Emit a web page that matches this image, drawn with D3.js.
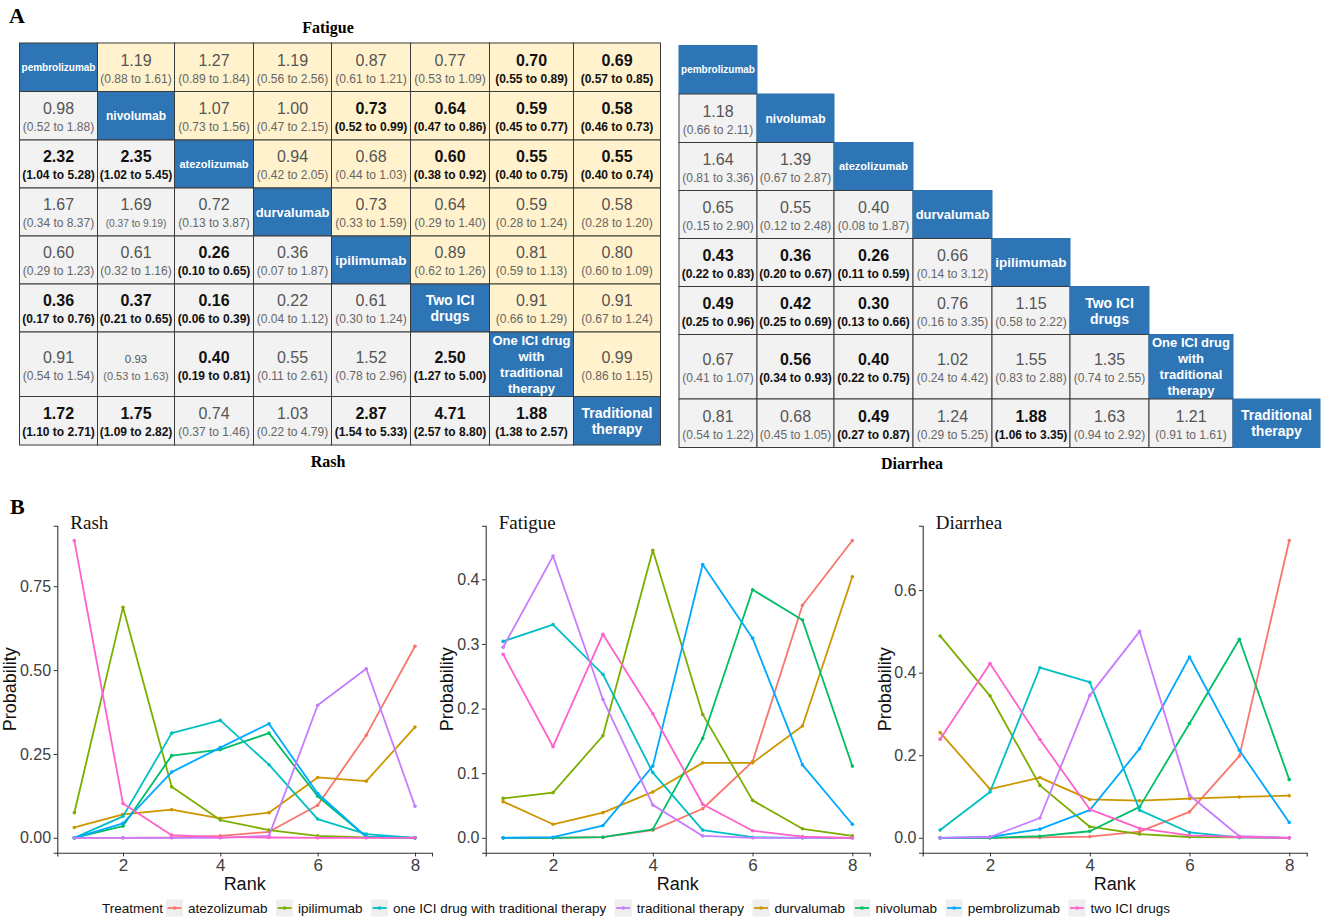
<!DOCTYPE html>
<html>
<head>
<meta charset="utf-8">
<script src="https://cdn.jsdelivr.net/npm/d3@7"></script>
<style>
  body { margin: 0; background: #fff; }
  svg text { font-family: "Liberation Sans", Arial, sans-serif; }
  svg text.serif { font-family: "Liberation Serif", "Times New Roman", serif; }
</style>
</head>
<body>
<script>
// ---------- data: league tables (A) ----------
const diagLabels = [
  ['pembrolizumab'], ['nivolumab'], ['atezolizumab'], ['durvalumab'], ['ipilimumab'],
  ['Two ICI', 'drugs'], ['One ICI drug', 'with', 'traditional', 'therapy'], ['Traditional', 'therapy']
];

// fatigue: upper triangle, row i, columns j > i  [OR, lower, upper]
const fatigue = [
  [[1.19,0.88,1.61],[1.27,0.89,1.84],[1.19,0.56,2.56],[0.87,0.61,1.21],[0.77,0.53,1.09],[0.70,0.55,0.89],[0.69,0.57,0.85]],
  [[1.07,0.73,1.56],[1.00,0.47,2.15],[0.73,0.52,0.99],[0.64,0.47,0.86],[0.59,0.45,0.77],[0.58,0.46,0.73]],
  [[0.94,0.42,2.05],[0.68,0.44,1.03],[0.60,0.38,0.92],[0.55,0.40,0.75],[0.55,0.40,0.74]],
  [[0.73,0.33,1.59],[0.64,0.29,1.40],[0.59,0.28,1.24],[0.58,0.28,1.20]],
  [[0.89,0.62,1.26],[0.81,0.59,1.13],[0.80,0.60,1.09]],
  [[0.91,0.66,1.29],[0.91,0.67,1.24]],
  [[0.99,0.86,1.15]],
  []
];

// rash: lower triangle, row i, columns j < i
const rash = [
  [],
  [[0.98,0.52,1.88]],
  [[2.32,1.04,5.28],[2.35,1.02,5.45]],
  [[1.67,0.34,8.37],[1.69,0.37,9.19],[0.72,0.13,3.87]],
  [[0.60,0.29,1.23],[0.61,0.32,1.16],[0.26,0.10,0.65],[0.36,0.07,1.87]],
  [[0.36,0.17,0.76],[0.37,0.21,0.65],[0.16,0.06,0.39],[0.22,0.04,1.12],[0.61,0.30,1.24]],
  [[0.91,0.54,1.54],[0.93,0.53,1.63],[0.40,0.19,0.81],[0.55,0.11,2.61],[1.52,0.78,2.96],[2.50,1.27,5.00]],
  [[1.72,1.10,2.71],[1.75,1.09,2.82],[0.74,0.37,1.46],[1.03,0.22,4.79],[2.87,1.54,5.33],[4.71,2.57,8.80],[1.88,1.38,2.57]]
];

// diarrhea: lower triangle only
const diarrhea = [
  [],
  [[1.18,0.66,2.11]],
  [[1.64,0.81,3.36],[1.39,0.67,2.87]],
  [[0.65,0.15,2.90],[0.55,0.12,2.48],[0.40,0.08,1.87]],
  [[0.43,0.22,0.83],[0.36,0.20,0.67],[0.26,0.11,0.59],[0.66,0.14,3.12]],
  [[0.49,0.25,0.96],[0.42,0.25,0.69],[0.30,0.13,0.66],[0.76,0.16,3.35],[1.15,0.58,2.22]],
  [[0.67,0.41,1.07],[0.56,0.34,0.93],[0.40,0.22,0.75],[1.02,0.24,4.42],[1.55,0.83,2.88],[1.35,0.74,2.55]],
  [[0.81,0.54,1.22],[0.68,0.45,1.05],[0.49,0.27,0.87],[1.24,0.29,5.25],[1.88,1.06,3.35],[1.63,0.94,2.92],[1.21,0.91,1.61]]
];

// ---------- data: rank probabilities (B) ----------
const ranks = [1, 2, 3, 4, 5, 6, 7, 8];
const treatments = ['atezolizumab', 'durvalumab', 'ipilimumab', 'nivolumab',
  'one ICI drug with traditional therapy', 'pembrolizumab', 'traditional therapy', 'two ICI drugs'];
const legendOrder = ['atezolizumab', 'ipilimumab', 'one ICI drug with traditional therapy', 'traditional therapy',
  'durvalumab', 'nivolumab', 'pembrolizumab', 'two ICI drugs'];

const rashProb = [
  [0, 0, 0.001, 0.006, 0.018, 0.097, 0.306, 0.571],
  [0.031, 0.070, 0.084, 0.058, 0.075, 0.180, 0.169, 0.330],
  [0.075, 0.687, 0.152, 0.053, 0.023, 0.006, 0.001, 0],
  [0, 0.035, 0.245, 0.263, 0.312, 0.124, 0.003, 0],
  [0, 0.064, 0.312, 0.350, 0.218, 0.056, 0.011, 0],
  [0, 0.043, 0.196, 0.269, 0.340, 0.132, 0.003, 0],
  [0, 0, 0, 0, 0.006, 0.395, 0.504, 0.094],
  [0.886, 0.102, 0.008, 0.002, 0.001, 0, 0, 0]
];
const fatigueProb = [
  [0, 0, 0.001, 0.012, 0.045, 0.118, 0.360, 0.460],
  [0.056, 0.021, 0.039, 0.071, 0.116, 0.116, 0.173, 0.404],
  [0.061, 0.070, 0.158, 0.445, 0.191, 0.058, 0.014, 0.003],
  [0, 0, 0.001, 0.013, 0.154, 0.384, 0.337, 0.111],
  [0.304, 0.330, 0.253, 0.101, 0.012, 0.001, 0, 0],
  [0, 0.001, 0.019, 0.111, 0.423, 0.309, 0.113, 0.021],
  [0.295, 0.436, 0.214, 0.051, 0.003, 0, 0, 0],
  [0.284, 0.141, 0.315, 0.192, 0.052, 0.011, 0.002, 0]
];
const diarrheaProb = [
  [0, 0, 0.001, 0.003, 0.015, 0.063, 0.198, 0.720],
  [0.255, 0.118, 0.146, 0.093, 0.090, 0.095, 0.099, 0.102],
  [0.489, 0.344, 0.127, 0.027, 0.009, 0.002, 0.001, 0],
  [0, 0, 0.004, 0.016, 0.075, 0.277, 0.481, 0.141],
  [0.019, 0.111, 0.412, 0.377, 0.067, 0.013, 0.001, 0],
  [0, 0.002, 0.021, 0.067, 0.216, 0.438, 0.212, 0.037],
  [0, 0.002, 0.048, 0.345, 0.500, 0.103, 0.004, 0],
  [0.239, 0.422, 0.238, 0.069, 0.023, 0.006, 0.002, 0]
];

const rashTicks = [0, 0.25, 0.5, 0.75];
const fatigueTicks = [0, 0.1, 0.2, 0.3, 0.4];
const diarrheaTicks = [0, 0.2, 0.4, 0.6];
const rankTicks = [2, 4, 6, 8];

// ---------- styles ----------
const color = d3.scaleOrdinal()
  .domain(treatments)
  .range(['#F8766D', '#CD9600', '#7CAE00', '#00BE67', '#00BFC4', '#00A9FF', '#C77CFF', '#FF61CC']);
const BLUE = '#2E75B6', YELLOW = '#FFF2CC', GREY = '#F2F2F2';
const diagFont = [10, 12, 11, 13, 13.5, 14, 13, 14];
const colW = [78, 77, 79, 78, 79, 79, 84, 87];
const rowH = [48.5, 48.5, 48, 48, 48, 48, 64.5, 48.5];
// a couple of cells are typeset smaller in the source: [value size, CI size]
const oddSizes = { '3-1': [16, 10.2], '6-1': [11.5, 11] };

const W = 1322, H = 919;
const svg = d3.select('body').append('svg').attr('width', W).attr('height', H);
const f2 = d3.format('.2f');

// ---------- league tables ----------
function drawMatrix(x0, y0, upper, lower, colWidths) {
  const xs = [0, ...d3.cumsum(colWidths)];
  const ys = [0, ...d3.cumsum(rowH)];
  const g = svg.append('g').attr('transform', `translate(${x0},${y0})`);
  const cells = [];
  for (let i = 0; i < 8; i++) {
    for (let j = 0; j < 8; j++) {
      let type, v = null;
      if (i === j) type = 'diag';
      else if (j > i) { if (!upper) continue; type = 'upper'; v = upper[i][j - i - 1]; }
      else { type = 'lower'; v = lower[i][j]; }
      cells.push({ i, j, type, v });
    }
  }
  const cell = g.selectAll('g.cell').data(cells).enter().append('g')
    .attr('class', 'cell')
    .attr('transform', d => `translate(${xs[d.j]},${ys[d.i]})`);

  cell.append('rect')
    .attr('width', d => colWidths[d.j])
    .attr('height', d => rowH[d.i])
    .attr('fill', d => d.type === 'diag' ? BLUE : d.type === 'upper' ? YELLOW : GREY)
    .attr('stroke', d => d.type === 'diag' && !upper ? BLUE : '#3a3a3a')
    .attr('stroke-width', 1);

  // diagonal labels
  cell.filter(d => d.type === 'diag').each(function (d) {
    const lines = diagLabels[d.i];
    const fs = diagFont[d.i];
    const cx = colWidths[d.j] / 2, cy = rowH[d.i] / 2;
    const lh = 16;
    d3.select(this).selectAll('text').data(lines).enter().append('text')
      .attr('x', cx)
      .attr('y', (l, k) => cy + (k - (lines.length - 1) / 2) * lh + fs * 0.36)
      .attr('text-anchor', 'middle')
      .attr('fill', '#fff')
      .attr('font-weight', 'bold')
      .attr('font-size', fs)
      .text(l => l);
  });

  // value cells
  const vc = cell.filter(d => d.type !== 'diag');
  const sig = d => d.v[2] < 1 || d.v[1] > 1;
  const size = (d, k, def) => (upper && oddSizes[`${d.i}-${d.j}`]) ? oddSizes[`${d.i}-${d.j}`][k] : def;
  vc.append('text')
    .attr('x', d => colWidths[d.j] / 2)
    .attr('y', d => rowH[d.i] / 2 - 1.6)
    .attr('text-anchor', 'middle')
    .attr('font-size', d => size(d, 0, 16))
    .attr('font-weight', d => sig(d) ? 'bold' : 'normal')
    .attr('fill', d => sig(d) ? '#111' : '#555')
    .text(d => f2(d.v[0]));
  vc.append('text')
    .attr('x', d => colWidths[d.j] / 2)
    .attr('y', d => rowH[d.i] / 2 + 15.4)
    .attr('text-anchor', 'middle')
    .attr('font-size', d => size(d, 1, 12))
    .attr('font-weight', d => sig(d) ? 'bold' : 'normal')
    .attr('fill', d => sig(d) ? '#111' : '#666')
    .text(d => `(${f2(d.v[1])} to ${f2(d.v[2])})`);
}

drawMatrix(19.5, 43, fatigue, rash, colW);
drawMatrix(679, 45.5, null, diarrhea, [78, 77, 79, 79, 78, 79, 84, 87]);

function boldTitle(x, y, txt, size, anchor) {
  svg.append('text').attr('class', 'serif')
    .attr('x', x).attr('y', y)
    .attr('text-anchor', anchor || 'middle')
    .attr('font-weight', 'bold').attr('font-size', size)
    .text(txt);
}
boldTitle(9, 23, 'A', 22, 'start');
boldTitle(328, 33, 'Fatigue', 16);
boldTitle(328, 467, 'Rash', 16);
boldTitle(912, 469, 'Diarrhea', 16);
boldTitle(10, 514, 'B', 22, 'start');

// ---------- rank probability panels ----------
const panels = [
  { title: 'Rash', probs: rashProb, ticks: rashTicks, fmt: d3.format('.2f'), left: 57.3, right: 432, ylab: 15.5 },
  { title: 'Fatigue', probs: fatigueProb, ticks: fatigueTicks, fmt: d3.format('.1f'), left: 485.7, right: 869.8, ylab: 452.5 },
  { title: 'Diarrhea', probs: diarrheaProb, ticks: diarrheaTicks, fmt: d3.format('.1f'), left: 922.7, right: 1306.7, ylab: 890.5 }
];
const plotTop = 525.7, plotBottom = 852.7;

panels.forEach(p => {
  const ymax = d3.max(p.probs, s => d3.max(s));
  const x = d3.scaleLinear().domain([1 - 0.35, 8 + 0.35]).range([p.left, p.right]);
  const y = d3.scaleLinear().domain([-ymax * 0.05, ymax * 1.05]).range([plotBottom, plotTop]);
  const g = svg.append('g');

  const line = d3.line().x((d, k) => x(ranks[k])).y(d => y(d));
  const series = g.selectAll('g.series').data(p.probs).enter().append('g');
  series.append('path')
    .attr('d', d => line(d))
    .attr('fill', 'none')
    .attr('stroke', (d, k) => color(treatments[k]))
    .attr('stroke-width', 1.8)
    .attr('stroke-linejoin', 'round');
  series.each(function (d, k) {
    d3.select(this).selectAll('circle').data(d).enter().append('circle')
      .attr('cx', (v, r) => x(ranks[r]))
      .attr('cy', v => y(v))
      .attr('r', 1.8)
      .attr('fill', color(treatments[k]));
  });

  const yAxis = g.append('g').attr('transform', `translate(${p.left},0)`)
    .call(d3.axisLeft(y).tickValues(p.ticks).tickFormat(p.fmt).tickSize(3.7).tickPadding(2.5));
  const xAxis = g.append('g').attr('transform', `translate(0,${plotBottom})`)
    .call(d3.axisBottom(x).tickValues(rankTicks).tickSize(3.7).tickPadding(3));
  [xAxis, yAxis].forEach(a => {
    a.select('.domain').attr('stroke', '#333').attr('stroke-width', 1.1);
    a.selectAll('.tick line').attr('stroke', '#333');
    a.selectAll('.tick text').attr('fill', '#404040').attr('font-size', 16)
      .style('font-family', '"Liberation Sans", Arial, sans-serif');
  });
  xAxis.selectAll('.tick text').attr('font-size', 17);

  g.append('text').attr('class', 'serif')
    .attr('x', p.left + 13).attr('y', 529)
    .attr('font-size', 19).attr('fill', '#111')
    .text(p.title);
  g.append('text')
    .attr('transform', `translate(${p.ylab},${(plotTop + plotBottom) / 2}) rotate(-90)`)
    .attr('text-anchor', 'middle').attr('font-size', 18).attr('fill', '#111')
    .text('Probability');
  g.append('text')
    .attr('x', (p.left + p.right) / 2).attr('y', 890)
    .attr('text-anchor', 'middle').attr('font-size', 18).attr('fill', '#111')
    .text('Rank');
});

// ---------- legend ----------
const leg = svg.append('g').attr('transform', 'translate(0,908)');
leg.append('text').attr('x', 102).attr('y', 5).attr('font-size', 13.5).attr('fill', '#111').text('Treatment');
let lx = 166;
legendOrder.forEach(t => {
  const item = leg.append('g').attr('transform', `translate(${lx},0)`);
  item.append('rect').attr('x', 0).attr('y', -8.5).attr('width', 17).attr('height', 17).attr('fill', '#EEEEEE');
  item.append('line').attr('x1', 1.5).attr('x2', 15.5).attr('y1', 0).attr('y2', 0)
    .attr('stroke', color(t)).attr('stroke-width', 1.8);
  item.append('circle').attr('cx', 8.5).attr('cy', 0).attr('r', 1.8).attr('fill', color(t));
  const txt = item.append('text').attr('x', 22).attr('y', 5).attr('font-size', 13.5).attr('fill', '#111').text(t);
  lx += 22 + txt.node().getComputedTextLength() + 8.5;
});
</script>
</body>
</html>
